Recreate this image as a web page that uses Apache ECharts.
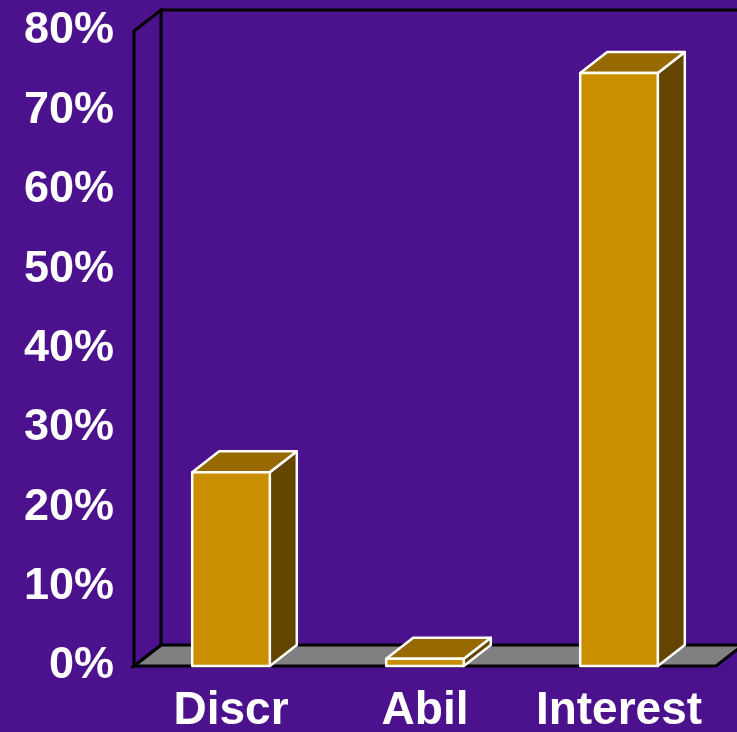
<!DOCTYPE html>
<html>
<head>
<meta charset="utf-8">
<title>Share by category</title>
<script src="https://cdn.jsdelivr.net/npm/echarts@6/dist/echarts.min.js"></script>
<style>
  html, body { margin: 0; padding: 0; background: #4c118c; }
  #chart { width: 737px; height: 732px; }
</style>
</head>
<body>
<div id="chart"></div>
<script>
// Categories and their percentage shares
const categories = ['Discr', 'Abil', 'Interest'];
const shares = [24.4, 0.9, 74.7];

// Value axis range and step (percent)
const axisMin = 0;
const axisMax = 80;
const axisStep = 10;

// Oblique offset used for the box depth
const DX = 27;
const DY = -21;

const FONT = '"Liberation Sans", Arial, sans-serif';

const chart = echarts.init(document.getElementById('chart'));

function renderWalls(params, api) {
  const cs = params.coordSys;
  const x0 = cs.x, x1 = cs.x + cs.width;
  const yt = api.coord([0, axisMax])[1];
  const yb = api.coord([0, axisMin])[1];
  const line = { stroke: '#000', lineWidth: 3, lineJoin: 'miter' };
  return {
    type: 'group',
    children: [
      { type: 'polygon',
        shape: { points: [[x0, yb], [x0 + DX, yb + DY], [x1 + DX, yb + DY], [x1, yb]] },
        style: Object.assign({ fill: '#808080' }, line) },
      { type: 'polygon',
        shape: { points: [[x0, yt], [x0 + DX, yt + DY], [x0 + DX, yb + DY], [x0, yb]] },
        style: Object.assign({ fill: 'none' }, line) },
      { type: 'polyline',
        shape: { points: [[x0 + DX, yt + DY], [x1 + DX + 40, yt + DY]] },
        style: Object.assign({ fill: 'none' }, line) }
    ]
  };
}

function renderBar(params, api) {
  const idx = api.value(0);
  const val = api.value(1);
  const base = api.coord([idx, axisMin]);
  const top = api.coord([idx, val]);
  const w = api.size([1, 0])[0] * 0.4;
  const l = base[0] - w / 2, r = base[0] + w / 2;
  const yb = base[1], yt = top[1];
  const edge = { stroke: '#ffffff', lineWidth: 2.5, lineJoin: 'round' };
  return {
    type: 'group',
    children: [
      { type: 'polygon',
        shape: { points: [[r, yt], [r + DX, yt + DY], [r + DX, yb + DY], [r, yb]] },
        style: Object.assign({ fill: '#634500' }, edge) },
      { type: 'polygon',
        shape: { points: [[l, yt], [l + DX, yt + DY], [r + DX, yt + DY], [r, yt]] },
        style: Object.assign({ fill: '#966a00' }, edge) },
      { type: 'rect',
        shape: { x: l, y: yt, width: w, height: yb - yt },
        style: Object.assign({ fill: '#c98f00' }, edge) }
    ]
  };
}

chart.setOption({
  backgroundColor: '#4c118c',
  animation: false,
  grid: { left: 134, right: 21, top: 31, bottom: 66, containLabel: false,
          outerBoundsMode: 'none' },
  xAxis: {
    type: 'category',
    data: categories,
    axisLine: { show: false },
    axisTick: { show: false },
    splitLine: { show: false },
    axisLabel: {
      color: '#ffffff', fontFamily: FONT, fontWeight: 'bold', fontSize: 46,
      margin: 22, interval: 0
    }
  },
  yAxis: {
    type: 'value',
    min: axisMin, max: axisMax, interval: axisStep,
    axisLine: { show: false },
    axisTick: { show: false },
    splitLine: { show: false },
    axisLabel: {
      color: '#ffffff', fontFamily: FONT, fontWeight: 'bold', fontSize: 45,
      margin: 20, formatter: '{value}%'
    }
  },
  series: [
    { type: 'custom', name: 'walls', renderItem: renderWalls, data: [[0, 0]],
      clip: false, silent: true, z: 1 },
    { type: 'custom', name: 'share', renderItem: renderBar,
      data: categories.map((c, i) => [i, shares[i]]),
      encode: { x: 0, y: 1 }, clip: false, z: 2 }
  ]
});
</script>
</body>
</html>
